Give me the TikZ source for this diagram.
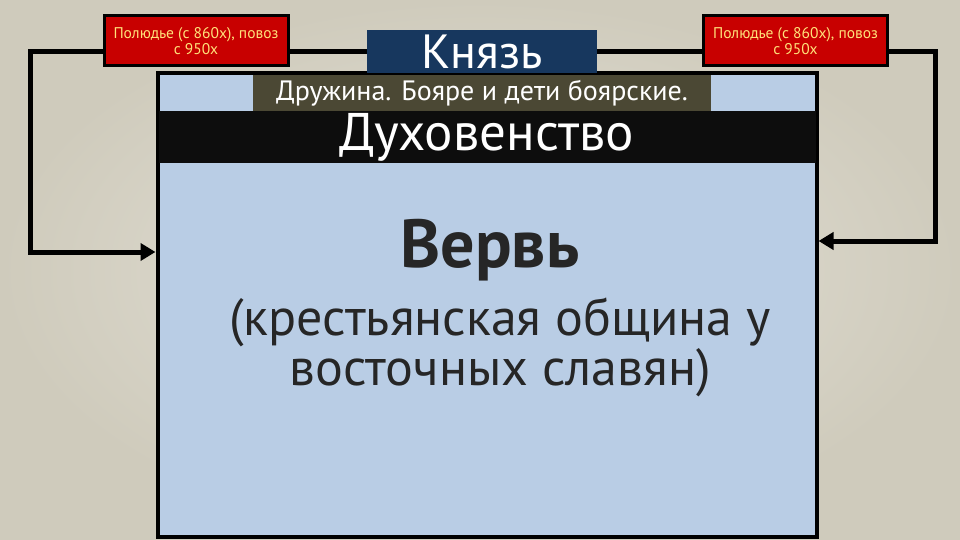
\documentclass[tikz,border=0pt]{standalone}
\usepackage{fontspec}
\setmainfont{PT Sans}
\usetikzlibrary{positioning,arrows.meta}

\definecolor{paper}{HTML}{E6E3DA}
\definecolor{paperedge}{HTML}{CFCBBC}
\definecolor{obshblue}{HTML}{B9CDE5}
\definecolor{poljred}{HTML}{C80000}
\definecolor{poljtext}{HTML}{FFE27A}
\definecolor{knnavy}{HTML}{17375E}
\definecolor{druzhgrey}{HTML}{4B4834}
\definecolor{inktext}{HTML}{262626}

\tikzset{
  redbox/.style={draw=black, line width=3pt, fill=poljred, text=poljtext,
    minimum width=184pt, minimum height=50pt, inner sep=1pt, align=center,
    font=\fontsize{15.5}{16}\selectfont},
  conn/.style={line width=5pt, draw=black},
  arr/.style={conn, -{Triangle[length=15pt,width=17pt]}},
}

\begin{document}
\begin{tikzpicture}[x=1pt,y=-1pt]
\def\xl{30}
\def\xr{935}
\def\ytop{52}

% paper
\shade[inner color=paper, outer color=paperedge] (0,0) rectangle (960,540);
\useasboundingbox (0,0) rectangle (960,540);

% main blocks
\node[draw=black, line width=4pt, fill=obshblue, minimum width=659pt,
      minimum height=464pt, inner sep=0pt] (verv) at (487,305) {};
\node[fill=black!95, minimum width=657pt, minimum height=52pt, inner sep=0pt,
      text=white, font=\fontsize{53}{56}\selectfont] (duh) at (487,137) {Духовенство};
\node[fill=druzhgrey, minimum width=458pt, minimum height=36pt, inner sep=0pt,
      text=white, font=\fontsize{28}{30}\selectfont] (druzh) at (482,93)
      {Дружина. Бояре и дети боярские.};
\node[fill=knnavy, minimum width=230pt, minimum height=43pt, inner sep=0pt,
      text=white, font=\fontsize{48}{50}\selectfont] (knyaz) at (482,51.5) {Князь};

\node[redbox] (poljL) at (196,41) {Полюдье (с 860х), повоз\\с 950х};
\node[redbox] (poljR) at (795.5,41) {Полюдье (с 860х), повоз\\с 950х};

% text in the community box
\node[text=inktext, font=\bfseries\fontsize{68}{70}\selectfont] (vervt) at (490,250) {Вервь};
\node[text=inktext, align=center, font=\fontsize{52}{50}\selectfont] (obsh) at (500,347)
      {(крестьянская община у\\восточных славян)};

% connectors
\coordinate (ltop) at (\xl,\ytop);
\coordinate (lbot) at (\xl,252);
\coordinate (rtop) at (\xr,\ytop);
\coordinate (rbot) at (\xr,241);

\draw[conn] (poljL.east |- knyaz.west) -- (knyaz.west);
\draw[conn] (knyaz.east) -- (poljR.west |- knyaz.east);
\draw[arr] (poljL.west |- ltop) -- (ltop) -- (lbot) -- (verv.west |- lbot);
\draw[arr] (poljR.east |- rtop) -- (rtop) -- (rbot) -- (verv.east |- rbot);
\end{tikzpicture}
\end{document}
